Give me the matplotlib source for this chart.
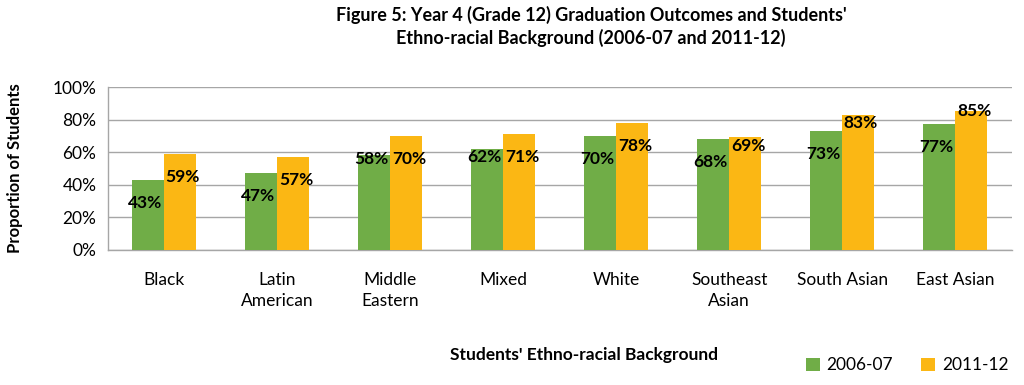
import matplotlib.pyplot as plt
import numpy as np

categories = ["Black", "Latin\nAmerican", "Middle\nEastern", "Mixed", "White",
              "Southeast\nAsian", "South Asian", "East Asian"]
vals_0607 = [43, 47, 58, 62, 70, 68, 73, 77]
vals_1112 = [59, 57, 70, 71, 78, 69, 83, 85]
series_names = ["2006-07", "2011-12"]

# how far each data label sits below the top of its bar (percentage points)
drop_0607 = [14, 14, 2, 5, 14, 14, 14, 14]
drop_1112 = [14, 14, 14, 14, 14, 5, 5, 0]

green = "#70AD47"
gold = "#FBB714"
font = "Lato"

fig = plt.figure(figsize=(10.24, 3.85), dpi=100)
ax = fig.add_axes([0.105, 0.351, 0.883, 0.423])

x = np.arange(len(categories))
w = 0.283
ax.bar(x - w / 2, vals_0607, w, color=green, label=series_names[0], zorder=3)
ax.bar(x + w / 2, vals_1112, w, color=gold, label=series_names[1], zorder=3)

for i in range(len(categories)):
    ax.text(x[i] - w / 2 - 0.025, vals_0607[i] - drop_0607[i], f"{vals_0607[i]}%",
            ha="center", va="center", fontsize=12.5, fontweight="bold",
            family=font, zorder=4)
    ax.text(x[i] + w / 2 + 0.025, vals_1112[i] - drop_1112[i], f"{vals_1112[i]}%",
            ha="center", va="center", fontsize=12.5, fontweight="bold",
            family=font, zorder=4)

ax.set_xlim(-0.5, len(categories) - 0.5)
ax.set_ylim(0, 100)
ax.set_yticks(range(0, 101, 20))
ax.set_yticklabels([f"{v}%" for v in range(0, 101, 20)], family=font, fontsize=12.5)
ax.set_xticks(x)
ax.set_xticklabels(categories, family=font, fontsize=12.5, linespacing=1.4)
ax.tick_params(axis="both", length=0, pad=8)
ax.tick_params(axis="x", pad=16)
ax.yaxis.grid(True, color="#A6A6A6", linewidth=1.0, zorder=0)
for s in ["top", "right"]:
    ax.spines[s].set_visible(False)
ax.spines["left"].set_color("#A6A6A6")
ax.spines["bottom"].set_color("#A6A6A6")
ax.spines["left"].set_linewidth(1.0)
ax.spines["bottom"].set_linewidth(1.0)

ax.set_ylabel("Proportion of Students", family=font, fontsize=12,
              fontweight="bold", labelpad=12)
ax.yaxis.set_label_coords(-0.093, 0.5)

fig.text(0.577, 0.985, "Figure 5: Year 4 (Grade 12) Graduation Outcomes and Students'\n"
         "Ethno-racial Background (2006-07 and 2011-12)", ha="center", va="top",
         family=font, fontsize=13, fontweight="bold", linespacing=1.35)
fig.text(0.57, 0.077, "Students' Ethno-racial Background", ha="center",
         va="center", family=font, fontsize=12.5, fontweight="bold")

fig.legend(loc="lower right", bbox_to_anchor=(1.0, -0.01), ncol=2, frameon=False,
           prop={"family": font, "size": 12.5}, handlelength=0.8, handleheight=0.8,
           handletextpad=0.4, columnspacing=1.6)

fig.savefig("out.png", dpi=100)
